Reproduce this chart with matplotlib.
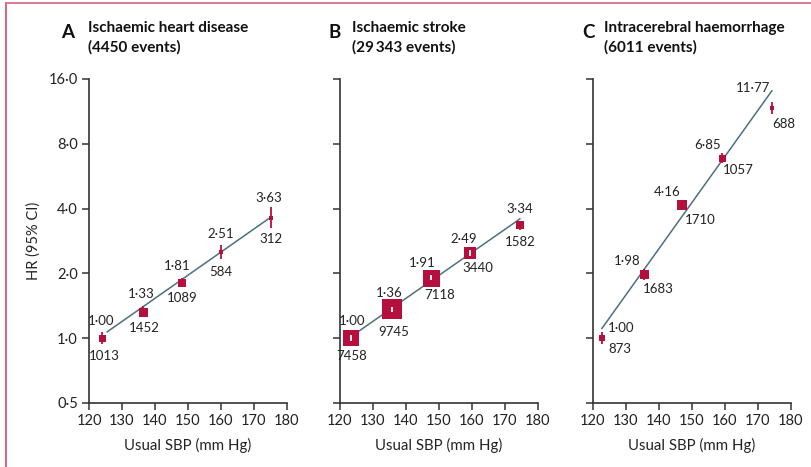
"""Hazard ratios by usual systolic blood pressure for three stroke / IHD outcomes.

Three log-scale panels: boxed point estimates with 95% CIs, a fitted
log-linear trend and the number of events next to each group.
"""

import matplotlib.pyplot as plt
from matplotlib.lines import Line2D

plt.rcParams["font.family"] = ["Lato", "DejaVu Sans"]

# ---- data -----------------------------------------------------------------
titles = [
    ("A", "Ischaemic heart disease\n(4450 events)"),
    ("B", "Ischaemic stroke\n(29\u2009343 events)"),
    ("C", "Intracerebral haemorrhage\n(6011 events)"),
]

ihd_sbp = [123.9, 136.5, 148.1, 160.0, 175.2]
ihd_hr = [1.00, 1.33, 1.81, 2.51, 3.63]
ihd_lo = [0.94, 1.25, 1.72, 2.33, 3.24]
ihd_hi = [1.07, 1.41, 1.91, 2.71, 4.07]
ihd_events = [1013, 1452, 1089, 584, 312]
ihd_trend_sbp = [125.5, 175.2]
ihd_trend_hr = [1.07, 3.66]

is_sbp = [123.3, 135.8, 147.6, 159.4, 174.5]
is_hr = [1.00, 1.36, 1.91, 2.49, 3.34]
is_lo = [0.97, 1.33, 1.86, 2.40, 3.17]
is_hi = [1.03, 1.39, 1.96, 2.58, 3.52]
is_events = [7458, 9745, 7118, 3440, 1582]
is_trend_sbp = [125.4, 174.5]
is_trend_hr = [1.07, 3.58]

ich_sbp = [122.7, 135.5, 147.0, 159.1, 174.2]
ich_hr = [1.00, 1.98, 4.16, 6.85, 11.77]
ich_lo = [0.94, 1.87, 3.93, 6.49, 11.03]
ich_hi = [1.07, 2.10, 4.40, 7.23, 12.55]
ich_events = [873, 1683, 1710, 1057, 688]
ich_trend_sbp = [122.7, 174.2]
ich_trend_hr = [1.11, 14.1]

y_ticks = [0.5, 1.0, 2.0, 4.0, 8.0, 16.0]
y_tick_labels = ["0·5", "1·0", "2·0", "4·0", "8·0", "16·0"]
x_ticks = [120, 130, 140, 150, 160, 170, 180]

# ---- layout / styling -------------------------------------------------------
RED = "#b5103d"
TREND = "#4d6f7f"
SPINE = "#333333"
TEXT = "#222222"

W, H = 812, 467
axes_left_px = [89, 340, 593]
axes_top_px, axes_bottom_px, axes_width_px = 79, 403, 198
letter_x_px = [61, 329, 582]
title_x_px = [88, 352, 604]

# box widths in pixels (weighted by information)
box_px = [
    [7, 9, 7.5, 5, 4],
    [16, 20, 17, 12, 8],
    [6, 9, 9.5, 7, 5],
]
# label offsets in pixels: (hr label), (events label)
hr_offsets = [
    [(-1, 17), (-2, 18), (-5, 17), (0, 18), (-2, 20)],
    [(1, 17), (-3, 16), (-9, 15), (-6, 14), (0, 16)],
    [(19, 10), (-17, 13), (-15, 13), (-14, 13), (-19, 20)],
]
ev_offsets = [
    [(2, -18), (1, -16), (1, -15), (0, -20), (0, -21)],
    [(1, -18), (2, -23), (9, -17), (8, -15), (0, -17)],
    [(18, -11), (14, -15), (18, -15), (16, -12), (12, -16)],
]

panels = [
    (ihd_sbp, ihd_hr, ihd_lo, ihd_hi, ihd_events, ihd_trend_sbp, ihd_trend_hr),
    (is_sbp, is_hr, is_lo, is_hi, is_events, is_trend_sbp, is_trend_hr),
    (ich_sbp, ich_hr, ich_lo, ich_hi, ich_events, ich_trend_sbp, ich_trend_hr),
]


def fmt_hr(v):
    return f"{v:.2f}".replace(".", "·")


fig = plt.figure(figsize=(W / 100, H / 100), dpi=100)

for i, (sbp, hr, lo, hi, events, tr_x, tr_y) in enumerate(panels):
    ax = fig.add_axes([
        axes_left_px[i] / W,
        1 - axes_bottom_px / H,
        axes_width_px / W,
        (axes_bottom_px - axes_top_px) / H,
    ])
    ax.set_yscale("log", base=2)
    ax.set_ylim(0.5, 16)
    ax.set_xlim(120, 180)
    ax.minorticks_off()
    ax.set_yticks(y_ticks)
    ax.set_xticks(x_ticks)
    if i == 0:
        ax.set_yticklabels(y_tick_labels)
        ax.set_ylabel("HR (95% CI)", fontsize=10.5, color=TEXT, labelpad=6)
    else:
        ax.set_yticklabels([])
    ax.set_xlabel("Usual SBP (mm Hg)", fontsize=10.8, color=TEXT, labelpad=7)
    for side in ("top", "right"):
        ax.spines[side].set_visible(False)
    for side in ("left", "bottom"):
        ax.spines[side].set_color(SPINE)
        ax.spines[side].set_linewidth(1.2)
    ax.tick_params(direction="out", length=5, width=1.1, color=SPINE,
                   labelsize=10.5, labelcolor=TEXT, pad=3)

    ax.plot(tr_x, tr_y, color=TREND, lw=1.1, zorder=2, clip_on=False)

    for j in range(len(sbp)):
        size_px = box_px[i][j]
        # CI drawn in white when it fits inside the box (compared in pixels)
        y_c = ax.transData.transform((sbp[j], hr[j]))[1]
        y_lo = ax.transData.transform((sbp[j], lo[j]))[1]
        y_hi = ax.transData.transform((sbp[j], hi[j]))[1]
        inside = (y_hi - y_c) < size_px / 2 and (y_c - y_lo) < size_px / 2
        ax.plot([sbp[j], sbp[j]], [lo[j], hi[j]],
                color="white" if inside else RED,
                lw=1.3, zorder=4 if inside else 3, solid_capstyle="butt",
                clip_on=False)
        ax.plot(sbp[j], hr[j], marker="s", ms=size_px * 0.72, color=RED,
                mec=RED, mew=0, zorder=3.5, clip_on=False)

        ax.annotate(fmt_hr(hr[j]), (sbp[j], hr[j]),
                    xytext=hr_offsets[i][j], textcoords="offset pixels",
                    ha="center", va="center", fontsize=9.5, color=TEXT)
        ax.annotate(str(events[j]), (sbp[j], hr[j]),
                    xytext=ev_offsets[i][j], textcoords="offset pixels",
                    ha="center", va="center", fontsize=9.5, color=TEXT)

    letter, title = titles[i]
    fig.text(letter_x_px[i] / W, 1 - 32 / H, letter, fontsize=13.5,
             fontweight="bold", color="#111111", ha="left", va="center")
    fig.text(title_x_px[i] / W, 1 - 21 / H, title, fontsize=11,
             fontweight="bold", color="#111111", ha="left", va="top",
             linespacing=1.45)

# thin coloured frame along the top and left edge
fig.add_artist(Line2D([6 / W, 6 / W], [0, 1 - 3 / H], color="#d9557a",
                      lw=1.3, transform=fig.transFigure))
fig.add_artist(Line2D([6 / W, 1], [1 - 3 / H, 1 - 3 / H], color="#d9708e",
                      lw=1.3, transform=fig.transFigure))

fig.savefig("out.png", dpi=100)
